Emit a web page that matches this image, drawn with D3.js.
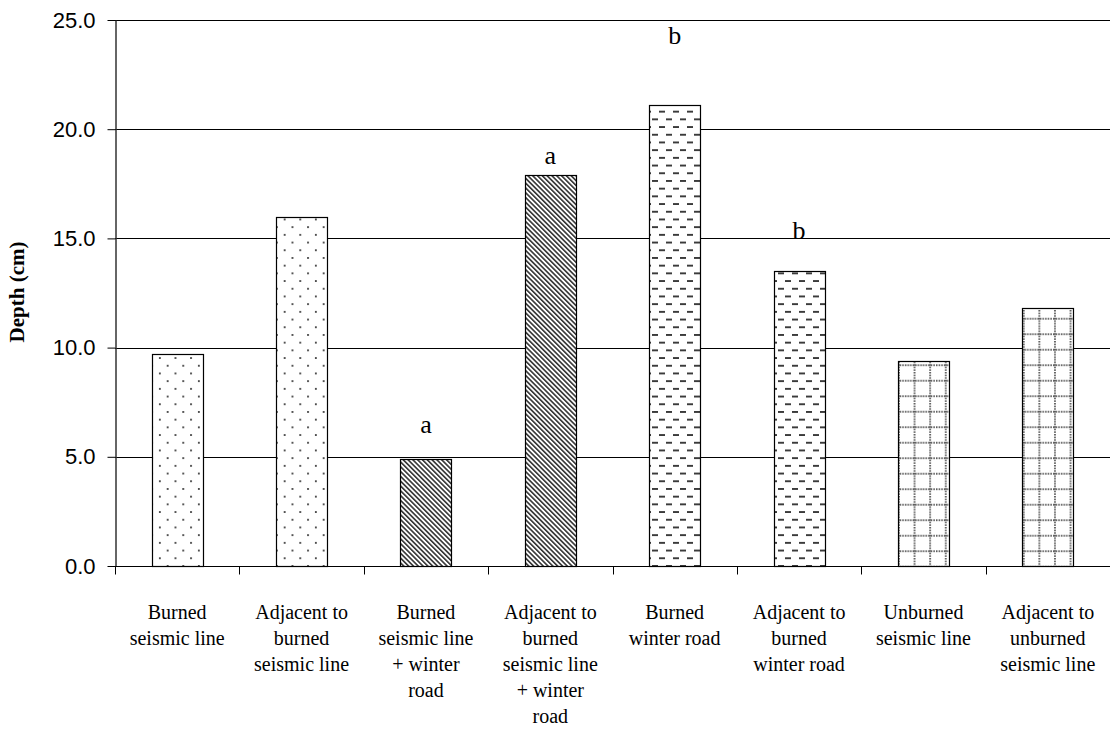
<!DOCTYPE html>
<html>
<head>
<meta charset="utf-8">
<script src="https://cdn.jsdelivr.net/npm/d3@7"></script>
<style>
  html, body { margin: 0; padding: 0; background: #fff; }
  svg { display: block; }
</style>
</head>
<body>
<svg id="chart" width="1110" height="740"></svg>
<script>
// Treatment categories (line breaks mark how the axis labels wrap)
const categories = [
  "Burned\nseismic line",
  "Adjacent to\nburned\nseismic line",
  "Burned\nseismic line\n+ winter\nroad",
  "Adjacent to\nburned\nseismic line\n+ winter\nroad",
  "Burned\nwinter road",
  "Adjacent to\nburned\nwinter road",
  "Unburned\nseismic line",
  "Adjacent to\nunburned\nseismic line"
];

// Mean depth (cm) for each treatment
const depths = [9.7, 16.0, 4.9, 17.9, 21.1, 13.5, 9.4, 11.8];

// Fill pattern used by each bar
const fills = ["dots", "dots", "hatch", "hatch", "dashes", "dashes", "grid", "grid"];

// Significance letters and the depth level each one sits at
const letters = ["", "", "a", "a", "b", "b", "", ""];
const letterDepths = [0, 0, 6.5, 18.8, 24.3, 15.4, 0, 0];

// Y axis ticks
const yTicks = [0, 5, 10, 15, 20, 25];

const svg = d3.select("#chart");
const plotLeft = 115, plotRight = 1110, plotTop = 20, plotBottom = 566;

const x = d3.scaleBand().domain(categories).range([plotLeft, plotRight])
  .paddingInner(0.59).paddingOuter(0.295);
const y = d3.scaleLinear().domain([0, 25]).range([plotBottom, plotTop]);

// ---- fill patterns ----
const defs = svg.append("defs");

const dots = defs.append("pattern").attr("id", "dots")
  .attr("patternUnits", "userSpaceOnUse").attr("width", 15.6).attr("height", 15.4);
dots.append("rect").attr("width", 15.6).attr("height", 15.4).attr("fill", "#fff");
dots.append("rect").attr("x", 3).attr("y", 3).attr("width", 1.7).attr("height", 1.7).attr("fill", "#222");
dots.append("rect").attr("x", 10.8).attr("y", 10.7).attr("width", 1.7).attr("height", 1.7).attr("fill", "#222");

const hatch = defs.append("pattern").attr("id", "hatch")
  .attr("patternUnits", "userSpaceOnUse").attr("width", 3.4).attr("height", 10)
  .attr("patternTransform", "rotate(-45)");
hatch.append("rect").attr("width", 3.4).attr("height", 10).attr("fill", "#fff");
hatch.append("rect").attr("width", 1.6).attr("height", 10).attr("fill", "#333");

const dashes = defs.append("pattern").attr("id", "dashes")
  .attr("patternUnits", "userSpaceOnUse").attr("width", 14).attr("height", 15.4);
dashes.append("rect").attr("width", 14).attr("height", 15.4).attr("fill", "#fff");
dashes.append("rect").attr("x", 1).attr("y", 3).attr("width", 6).attr("height", 1.7).attr("fill", "#222");
dashes.append("rect").attr("x", 8).attr("y", 10.7).attr("width", 6).attr("height", 1.7).attr("fill", "#222");

const grid = defs.append("pattern").attr("id", "grid")
  .attr("patternUnits", "userSpaceOnUse").attr("width", 15.6).attr("height", 15.5);
grid.append("rect").attr("width", 15.6).attr("height", 15.5).attr("fill", "#fff");
d3.range(6).forEach(i => {
  grid.append("rect").attr("x", 9).attr("y", i * 2.58).attr("width", 1.5).attr("height", 1.5).attr("fill", "#333");
  grid.append("rect").attr("x", i * 2.6).attr("y", 8).attr("width", 1.5).attr("height", 1.5).attr("fill", "#333");
});

// ---- gridlines ----
svg.append("g").selectAll("line").data(yTicks.filter(d => d > 0)).join("line")
  .attr("x1", plotLeft).attr("x2", plotRight)
  .attr("y1", d => Math.round(y(d)) + 0.5).attr("y2", d => Math.round(y(d)) + 0.5)
  .attr("stroke", "#000").attr("stroke-width", 1);

// ---- y axis ----
const yAxis = svg.append("g").attr("transform", `translate(${plotLeft + 0.5},0)`)
  .call(d3.axisLeft(y).tickValues(yTicks).tickFormat(d3.format(".1f")).tickSize(8).tickPadding(12).tickSizeOuter(0));
yAxis.select(".domain").attr("stroke", "#333").attr("stroke-width", 1.5);
yAxis.selectAll(".tick line").attr("stroke", "#000");
yAxis.selectAll(".tick text")
  .attr("font-family", "'Liberation Sans', Arial, sans-serif")
  .attr("font-size", 22).attr("fill", "#000");

// ---- bars ----
svg.append("g").selectAll("rect").data(categories).join("rect")
  .attr("x", d => Math.round(x(d)) + 0.5)
  .attr("y", (d, i) => Math.round(y(depths[i])) + 0.5)
  .attr("width", x.bandwidth())
  .attr("height", (d, i) => Math.round(y(0)) - Math.round(y(depths[i])))
  .attr("fill", (d, i) => `url(#${fills[i]})`)
  .attr("stroke", "#000").attr("stroke-width", 1.2);

// ---- x axis ----
const step = x.step();
const xAxis = svg.append("g").attr("transform", `translate(0,${Math.round(plotBottom) + 0.5})`);
xAxis.append("line").attr("x1", plotLeft).attr("x2", plotRight).attr("stroke", "#000");
xAxis.selectAll("line.tk").data(d3.range(categories.length + 1)).join("line")
  .attr("class", "tk")
  .attr("x1", i => Math.round(plotLeft + i * step) + 0.5).attr("x2", i => Math.round(plotLeft + i * step) + 0.5)
  .attr("y1", 0).attr("y2", 8).attr("stroke", "#000");

const labels = xAxis.selectAll("text").data(categories).join("text")
  .attr("font-family", "'Liberation Serif', 'Times New Roman', serif")
  .attr("font-size", 20).attr("fill", "#000").attr("text-anchor", "middle");
labels.each(function(d) {
  const t = d3.select(this);
  d.split("\n").forEach((ln, k) => {
    t.append("tspan").attr("x", x(d) + x.bandwidth() / 2).attr("y", 52 + k * 26).text(ln);
  });
});

// ---- significance letters ----
svg.append("g").selectAll("text").data(categories.filter((d, i) => letters[i])).join("text")
  .attr("x", d => x(d) + x.bandwidth() / 2)
  .attr("y", d => y(letterDepths[categories.indexOf(d)]) + 9)
  .attr("text-anchor", "middle")
  .attr("font-family", "'Liberation Serif', 'Times New Roman', serif")
  .attr("font-size", 26).attr("fill", "#000")
  .text(d => letters[categories.indexOf(d)]);

// ---- y axis title ----
svg.append("text")
  .attr("transform", "translate(24,292) rotate(-90)")
  .attr("text-anchor", "middle")
  .attr("font-family", "'Liberation Serif', 'Times New Roman', serif")
  .attr("font-weight", "bold").attr("font-size", 21).attr("fill", "#000")
  .text("Depth (cm)");
</script>
</body>
</html>
